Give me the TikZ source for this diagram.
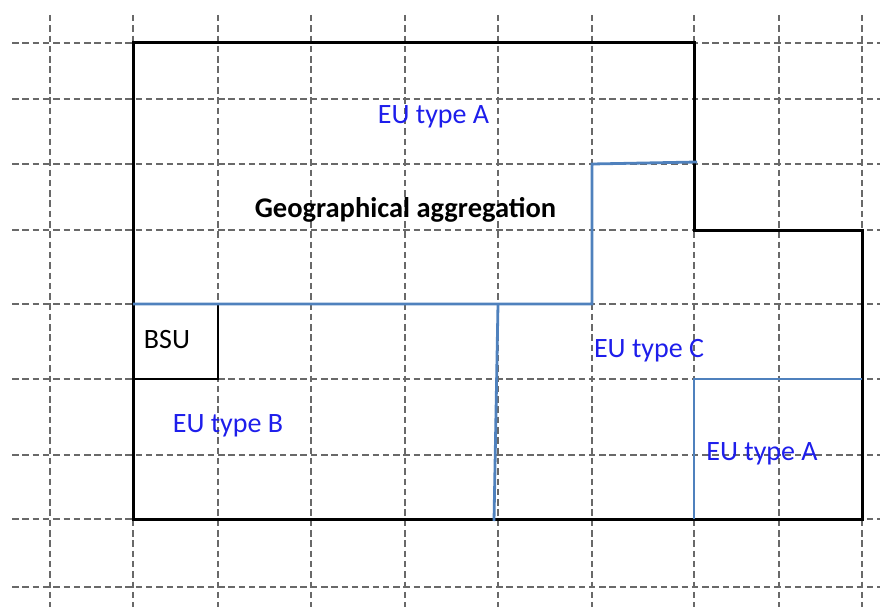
\documentclass[tikz,border=0pt]{standalone}
\usepackage{fontspec}
\setmainfont{Carlito}
\usepackage{tikz}

\definecolor{gridgray}{RGB}{105,105,105}
\definecolor{eublue}{RGB}{79,129,189}
\definecolor{labelblue}{RGB}{30,30,235}

\begin{document}
\begin{tikzpicture}[x=1pt, y=-1pt,
        gridline/.style={gridgray, line width=2.4pt, dash pattern=on 6.5pt off 3.8pt},
        border/.style={black, line width=3pt, line join=miter},
        euline/.style={eublue, line width=2.8pt},
        eulabel/.style={labelblue, anchor=base, inner sep=0pt, font=\fontsize{28}{30}\selectfont},
        blacklabel/.style={black, anchor=base, inner sep=0pt, font=\fontsize{28}{30}\selectfont}]
        \useasboundingbox (0,0) rectangle (880,607);
        % dashed grid
        \foreach \gx in {50,133,218,311,405,498,592,694,779,862}
            \draw [gridline] (\gx,15) -- (\gx,607);
        \foreach \gy in {43,99,164,230,304,379,455,519,587}
            \draw [gridline] (12,\gy) -- (880,\gy);
        % geographical aggregation outline
        \draw [border] (133,43) -- (694,43) -- (694,230) -- (862,230) -- (862,519) -- (133,519) -- cycle;
        % BSU cell
        \draw [black, line width=2.4pt] (133,379) -- (218,379) -- (218,304);
        % EU boundaries
        \draw [euline] (133,304) -- (592,304) -- (592,164) -- (697,162);
        \draw [euline] (498,304) -- (494,521);
        \draw [euline] (694,519) -- (694,379) -- (862,379);
        % labels
        \draw (433.5,124) node[eulabel] (euAtop) {EU type A};
        \draw (405.5,217) node[blacklabel, font=\bfseries\fontsize{28.5}{30}\selectfont] (geoagg) {Geographical aggregation};
        \draw (167,348) node[blacklabel] (bsu) {BSU};
        \draw (228,432) node[eulabel] (euB) {EU type B};
        \draw (649,357) node[eulabel] (euC) {EU type C};
        \draw (762,460) node[eulabel] (euAbottom) {EU type A};
    \end{tikzpicture}
\end{document}
